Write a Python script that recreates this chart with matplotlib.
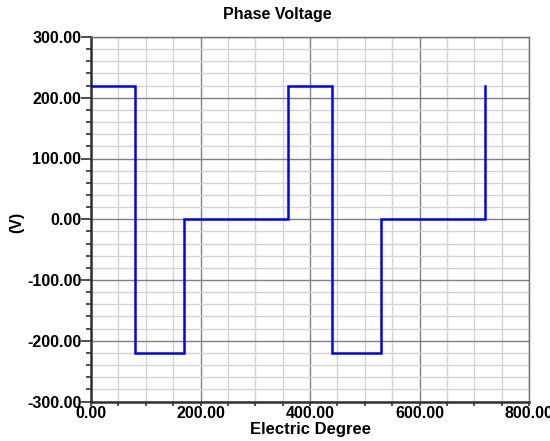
import numpy as np
import matplotlib.pyplot as plt
from matplotlib.ticker import MultipleLocator, FormatStrFormatter

plt.rcParams['font.family'] = ['Liberation Sans', 'DejaVu Sans']

# phase voltage waveform (step corners)
degree = [0, 80, 80, 170, 170, 360, 360, 440, 440, 530, 530, 720, 720]
volts = [220, 220, -220, -220, 0, 0, 220, 220, -220, -220, 0, 0, 220]

fig = plt.figure(figsize=(5.5, 4.41), dpi=100)
ax = fig.add_axes([91 / 550, 1 - 401.5 / 441, 438 / 550, 364.5 / 441])

ax.plot(degree, volts, color='#0000ff', lw=1.8, solid_joinstyle='miter', zorder=3)

ax.set_xlim(0, 800)
ax.set_ylim(-300, 300)
ax.xaxis.set_major_locator(MultipleLocator(200))
ax.xaxis.set_minor_locator(MultipleLocator(50))
ax.yaxis.set_major_locator(MultipleLocator(100))
ax.yaxis.set_minor_locator(MultipleLocator(20))
ax.xaxis.set_major_formatter(FormatStrFormatter('%.2f'))
ax.yaxis.set_major_formatter(FormatStrFormatter('%.2f'))

ax.grid(which='major', color='#808080', lw=1.0, zorder=1)
ax.grid(which='minor', color='#d3d3d3', lw=1.0, zorder=0)

for s in ['top', 'right']:
    ax.spines[s].set_color('#707070')
    ax.spines[s].set_linewidth(1.0)
for s in ['left', 'bottom']:
    ax.spines[s].set_color('#303030')
    ax.spines[s].set_linewidth(1.8)

ax.tick_params(axis='y', which='major', length=7, width=1.2, color='#303030',
               pad=0, labelsize=11.5)
ax.tick_params(axis='y', which='minor', length=3.5, width=1.2, color='#303030')
ax.tick_params(axis='x', which='both', length=3, width=1.2, color='#303030',
               pad=0, labelsize=11.5)
for lab in ax.get_xticklabels() + ax.get_yticklabels():
    lab.set_fontweight('bold')

fig.text(0.505, 1 - 15 / 441, 'Phase Voltage', fontsize=11.5, fontweight='bold',
         ha='center', va='center')
ax.set_xlabel('Electric Degree', fontsize=12, fontweight='bold', labelpad=1)
ax.set_ylabel('(V)', fontsize=11.5, fontweight='bold')
ax.yaxis.set_label_coords(-0.153, 0.49)

fig.savefig('out.png', dpi=100)
